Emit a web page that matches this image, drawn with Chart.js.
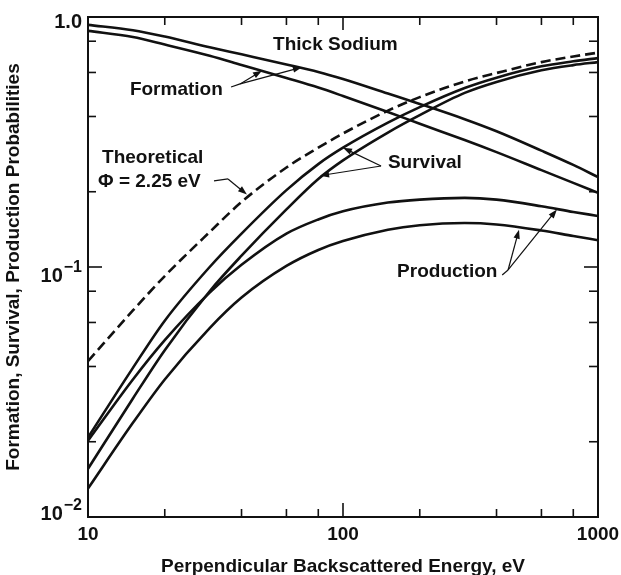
<!DOCTYPE html>
<html>
<head>
<meta charset="utf-8">
<script src="https://cdn.jsdelivr.net/npm/chart.js@4.4.1/dist/chart.umd.min.js"></script>
<style>
  html, body { margin: 0; padding: 0; background: #fff; }
</style>
</head>
<body>
<canvas id="grafico" width="621" height="575"></canvas>
<script>
// --- DATOS ---

// Energía perpendicular retrodispersada (eV)
const energias = [10, 15, 20, 30, 40, 60, 80, 100, 150, 200, 300, 400, 600, 800, 1000];

// Probabilidad de formación (dos curvas)
const formacionAlta = [0.93, 0.885, 0.835, 0.757, 0.709, 0.646, 0.603, 0.565, 0.494, 0.449, 0.39, 0.349, 0.292, 0.256, 0.229];
const formacionBaja = [0.88, 0.832, 0.776, 0.70, 0.643, 0.57, 0.522, 0.483, 0.417, 0.374, 0.322, 0.288, 0.244, 0.217, 0.198];

// Probabilidad de supervivencia (dos curvas)
const supervivenciaAlta = [0.0208, 0.0395, 0.061, 0.10, 0.136, 0.203, 0.258, 0.30, 0.378, 0.436, 0.52, 0.572, 0.635, 0.665, 0.685];
const supervivenciaBaja = [0.0156, 0.0298, 0.0465, 0.08, 0.111, 0.17, 0.225, 0.267, 0.345, 0.405, 0.497, 0.55, 0.612, 0.642, 0.66];

// Probabilidad de producción (dos curvas)
const produccionAlta = [0.0202, 0.0355, 0.051, 0.079, 0.102, 0.136, 0.155, 0.167, 0.181, 0.186, 0.189, 0.186, 0.175, 0.166, 0.16];
const produccionBaja = [0.013, 0.0238, 0.0355, 0.057, 0.0755, 0.101, 0.117, 0.127, 0.141, 0.147, 0.15, 0.148, 0.14, 0.133, 0.128];

// Curva teórica (Φ = 2.25 eV), discontinua
const teorica = [0.042, 0.067, 0.092, 0.138, 0.182, 0.25, 0.30, 0.342, 0.422, 0.478, 0.552, 0.597, 0.66, 0.695, 0.72];

// Marcas de los ejes
const xMayores = [10, 100, 1000];
const xMenores = [20, 40, 60, 80, 200, 400, 600, 800];
const xEtiquetas = ['10', '100', '1000'];
const yMayores = [0.01, 0.1, 1];
const yMenores = [0.02, 0.04, 0.06, 0.08, 0.2, 0.4, 0.6, 0.8];
const yBases = ['10', '10', '1.0'];
const yExponentes = ['\u22122', '\u22121', ''];

// Rótulos sobre el gráfico (energía, probabilidad del punto de anclaje)
const rotulos = [
    { texto: 'Thick Sodium', e: 53.2, p: 0.738 },
    { texto: 'Formation', e: 14.6, p: 0.488 },
    { texto: 'Theoretical', e: 11.35, p: 0.261 },
    { texto: '\u03A6 = 2.25 eV', e: 10.95, p: 0.209 },
    { texto: 'Survival', e: 150, p: 0.249 },
    { texto: 'Production', e: 163, p: 0.0912 }
];

// Líneas guía con flecha: tramo inicial y puntas
const guias = [
    { tramo: [[36.4, 0.525], [39.5, 0.54]], puntas: [[48.1, 0.61], [69, 0.63]] },
    { tramo: [[31.2, 0.221], [35.4, 0.225]], puntas: [[42, 0.195]] },
    { tramo: [[141, 0.2535]], puntas: [[100, 0.30], [81.3, 0.232]] },
    { tramo: [[421, 0.0929], [444, 0.0973]], puntas: [[490, 0.141], [690, 0.17]] }
];

// --- ESTILO ---
const fuente = "'Liberation Sans', Arial, Helvetica, sans-serif";
const tinta = '#111';

function serie(valores, extra) {
    return Object.assign({
        data: energias.map((e, i) => ({ x: e, y: valores[i] })),
        borderColor: tinta,
        borderWidth: 2.6,
        pointRadius: 0,
        fill: false,
        cubicInterpolationMode: 'monotone'
    }, extra || {});
}

function flecha(ctx, x0, y0, x1, y1) {
    const ang = Math.atan2(y1 - y0, x1 - x0);
    const largo = 9, ancho = 3.2;
    ctx.beginPath();
    ctx.moveTo(x0, y0);
    ctx.lineTo(x1 - Math.cos(ang) * largo * 0.8, y1 - Math.sin(ang) * largo * 0.8);
    ctx.stroke();
    ctx.beginPath();
    ctx.moveTo(x1, y1);
    ctx.lineTo(x1 - Math.cos(ang) * largo + Math.sin(ang) * ancho, y1 - Math.sin(ang) * largo - Math.cos(ang) * ancho);
    ctx.lineTo(x1 - Math.cos(ang) * largo - Math.sin(ang) * ancho, y1 - Math.sin(ang) * largo + Math.cos(ang) * ancho);
    ctx.closePath();
    ctx.fill();
}

// Marco, marcas hacia dentro, etiquetas y rótulos
const marco = {
    id: 'marco',
    afterDraw(chart) {
        const { ctx, chartArea: a, scales: { x, y } } = chart;
        ctx.save();
        ctx.strokeStyle = tinta;
        ctx.fillStyle = tinta;

        ctx.lineWidth = 2;
        ctx.strokeRect(a.left, a.top, a.right - a.left, a.bottom - a.top);

        ctx.lineWidth = 1.6;
        const marca = (x0, y0, x1, y1) => { ctx.beginPath(); ctx.moveTo(x0, y0); ctx.lineTo(x1, y1); ctx.stroke(); };
        xMayores.forEach(v => { const px = x.getPixelForValue(v); marca(px, a.bottom, px, a.bottom - 14); marca(px, a.top, px, a.top + 13); });
        xMenores.forEach(v => { const px = x.getPixelForValue(v); marca(px, a.bottom, px, a.bottom - 8); marca(px, a.top, px, a.top + 8); });
        yMayores.forEach(v => { const py = y.getPixelForValue(v); marca(a.left, py, a.left + 14, py); marca(a.right, py, a.right - 14, py); });
        yMenores.forEach(v => { const py = y.getPixelForValue(v); marca(a.left, py, a.left + 8, py); marca(a.right, py, a.right - 9, py); });

        // etiquetas del eje x
        ctx.font = `bold 19px ${fuente}`;
        ctx.textAlign = 'center';
        ctx.textBaseline = 'alphabetic';
        xEtiquetas.forEach((t, i) => ctx.fillText(t, x.getPixelForValue(xMayores[i]), a.bottom + 23));

        // etiquetas del eje y con exponente
        const bajada = [3, 15, 11];
        yMayores.forEach((v, i) => {
            const py = y.getPixelForValue(v) + bajada[i];
            let derecha = a.left - 6;
            ctx.textAlign = 'right';
            if (yExponentes[i]) {
                ctx.font = `bold 16px ${fuente}`;
                ctx.fillText(yExponentes[i], derecha, py - 10);
                derecha -= ctx.measureText(yExponentes[i]).width + 1;
            }
            ctx.font = `bold 20px ${fuente}`;
            ctx.fillText(yBases[i], derecha, py);
        });

        // rótulos
        ctx.textAlign = 'left';
        ctx.font = `bold 19px ${fuente}`;
        rotulos.forEach(r => ctx.fillText(r.texto, x.getPixelForValue(r.e), y.getPixelForValue(r.p)));

        // guías con flecha
        ctx.lineWidth = 1.2;
        guias.forEach(g => {
            const pts = g.tramo.map(([e, p]) => [x.getPixelForValue(e), y.getPixelForValue(p)]);
            if (pts.length > 1) {
                ctx.beginPath();
                ctx.moveTo(pts[0][0], pts[0][1]);
                pts.slice(1).forEach(pt => ctx.lineTo(pt[0], pt[1]));
                ctx.stroke();
            }
            const [x0, y0] = pts[pts.length - 1];
            g.puntas.forEach(([e, p]) => flecha(ctx, x0, y0, x.getPixelForValue(e), y.getPixelForValue(p)));
        });
        ctx.restore();
    }
};

const tituloEje = (texto, relleno) => ({
    display: true,
    text: texto,
    color: tinta,
    font: { family: fuente, size: 19, weight: 'bold' },
    padding: relleno
});

const grafico = document.getElementById('grafico');
let chart = new Chart(grafico, {
    type: 'line',
    data: {
        datasets: [
            serie(formacionAlta),
            serie(formacionBaja),
            serie(supervivenciaAlta),
            serie(supervivenciaBaja),
            serie(produccionAlta),
            serie(produccionBaja),
            serie(teorica, { borderDash: [10, 5] })
        ]
    },
    options: {
        responsive: false,
        animation: false,
        devicePixelRatio: 1,
        layout: { padding: { top: 17, right: 23, left: 0, bottom: 0 } },
        scales: {
            x: {
                type: 'logarithmic',
                min: 10,
                max: 1000,
                ticks: { display: false },
                grid: { display: false },
                border: { display: false },
                title: tituloEje('Perpendicular Backscattered Energy, eV', { top: 0, bottom: -3 }),
                afterFit: s => { s.height = 58; }
            },
            y: {
                type: 'logarithmic',
                min: 0.01,
                max: 1,
                ticks: { display: false },
                grid: { display: false },
                border: { display: false },
                title: tituloEje('Formation, Survival, Production Probabilities', { top: 2, bottom: 0 }),
                afterFit: s => { s.width = 88; }
            }
        },
        plugins: {
            legend: { display: false },
            tooltip: { enabled: false }
        }
    },
    plugins: [marco]
});
</script>
</body>
</html>
